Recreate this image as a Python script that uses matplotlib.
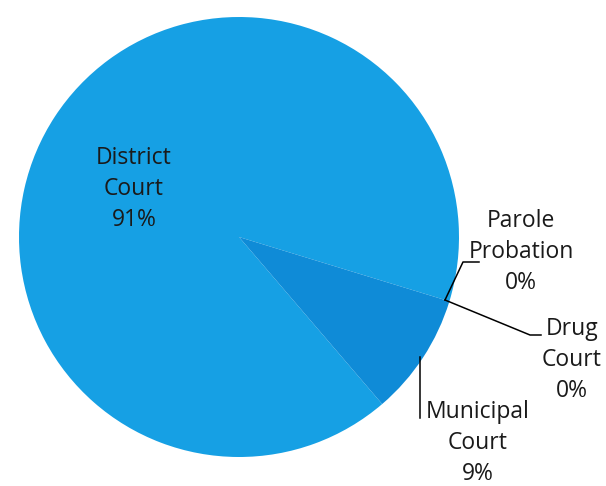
import matplotlib
matplotlib.use("Agg")
import matplotlib.pyplot as plt

categories = ["District Court", "Municipal Court", "Drug Court", "Parole Probation"]
values = [91, 9, 0, 0]
label_texts = ["District\nCourt\n91%", "Municipal\nCourt\n9%", "Drug\nCourt\n0%", "Parole\nProbation\n0%"]
colors = ["#16a0e4", "#0f8bd7", "#0a7cc8", "#2aa9e8"]

W, H = 606, 486
fig = plt.figure(figsize=(W / 100, H / 100), dpi=100)
ax = fig.add_axes([0, 0, 1, 1])

def Y(y):
    return H - y

cx, cy, r = 239, Y(237), 220
ax.pie(values, colors=colors, startangle=-17.0, counterclock=True,
       center=(cx, cy), radius=r, frame=True,
       wedgeprops=dict(linewidth=0))
ax.set_xlim(0, W)
ax.set_ylim(0, H)
ax.set_aspect("equal")
ax.axis("off")

font = dict(family="Open Sans", fontsize=16.5, color="#1a1a1a", ha="center", va="center",
            linespacing=1.4)
ax.text(134, Y(189), label_texts[0], **font)
ax.text(478, Y(443), label_texts[1], **font)
ax.text(572, Y(360), label_texts[2], **font)
ax.text(521, Y(252), label_texts[3], **font)

lc = dict(color="black", linewidth=1.1)
ax.plot([445, 463, 479], [Y(300), Y(262), Y(262)], **lc)
ax.plot([445, 530, 541], [Y(300), Y(335), Y(335)], **lc)
ax.plot([420, 420], [Y(357), Y(418)], **lc)

fig.savefig("out.png", dpi=100)
